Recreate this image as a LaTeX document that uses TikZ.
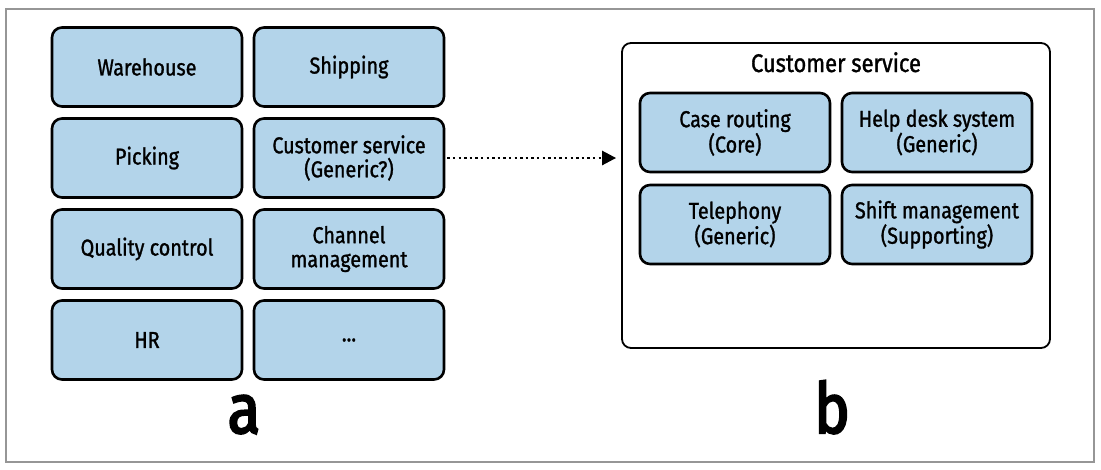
\documentclass[tikz,border=0pt]{standalone}
\usepackage{fontspec}
\newfontfamily\boxfont{Fira Sans}[FakeStretch=0.86, FakeBold=1.2]
\newfontfamily\letterfont{Fira Sans}[FakeStretch=0.86, FakeBold=3]
\usetikzlibrary{arrows.meta}
\definecolor{boxblue}{RGB}{179,212,234}
\definecolor{framegray}{RGB}{150,150,150}
\begin{document}
\begin{tikzpicture}[x=1pt, y=-1pt,
  subdomain/.style={rectangle, rounded corners=10pt, draw, line width=2.6pt, fill=boxblue,
    minimum width=190pt, minimum height=79pt, align=center, inner sep=0pt,
    font=\boxfont\fontsize{23}{24}\selectfont},
  panel/.style={rectangle, rounded corners=9pt, draw, line width=1.8pt,
    minimum width=428pt, minimum height=305pt, inner sep=0pt},
  biglabel/.style={font=\letterfont\fontsize{70}{74}\selectfont, inner sep=0pt}]
  \useasboundingbox (0,0) rectangle (1101,469);
  % Frame
  \draw[framegray, line width=1.5pt] (6,9) rectangle (1094,462);
  % Nodes
  \node (WH) [subdomain] at (147, 67) {Warehouse};
  \node (SH) [subdomain] at (349, 67) {Shipping};
  \node (PK) [subdomain] at (147, 158) {Picking};
  \node (CS) [subdomain] at (349, 158) {Customer service\\(Generic?)};
  \node (QC) [subdomain] at (147, 249) {Quality control};
  \node (CM) [subdomain] at (349, 249) {Channel\\management};
  \node (HR) [subdomain] at (147, 340) {HR};
  \node (MORE) [subdomain] at (349, 340) {...};
  % Zoomed in
  \node (panel) [panel] at (836, 195.5) {};
  \node (title) [font=\boxfont\fontsize{25.5}{27}\selectfont, anchor=base] at (836, 72) {Customer service};
  \node (CR) [subdomain] at (735, 132.5) {Case routing\\(Core)};
  \node (HD) [subdomain] at (937, 132.5) {Help desk system\\(Generic)};
  \node (TP) [subdomain] at (735, 224.5) {Telephony\\(Generic)};
  \node (SM) [subdomain] at (937, 224.5) {Shift management\\(Supporting)};
  % Arrows
  \draw[-{Triangle[length=14pt, width=14pt]}, line width=2.6pt, dash pattern=on 2.4pt off 3.2pt, shorten <=2pt, shorten >=5pt]
    (CS.east) -- (CS.east -| panel.west);
  % Labels
  \node (la) [biglabel, anchor=base] at (244, 433) {a};
  \node (lb) [biglabel, anchor=base] at (832, 433) {b};
\end{tikzpicture}
\end{document}
